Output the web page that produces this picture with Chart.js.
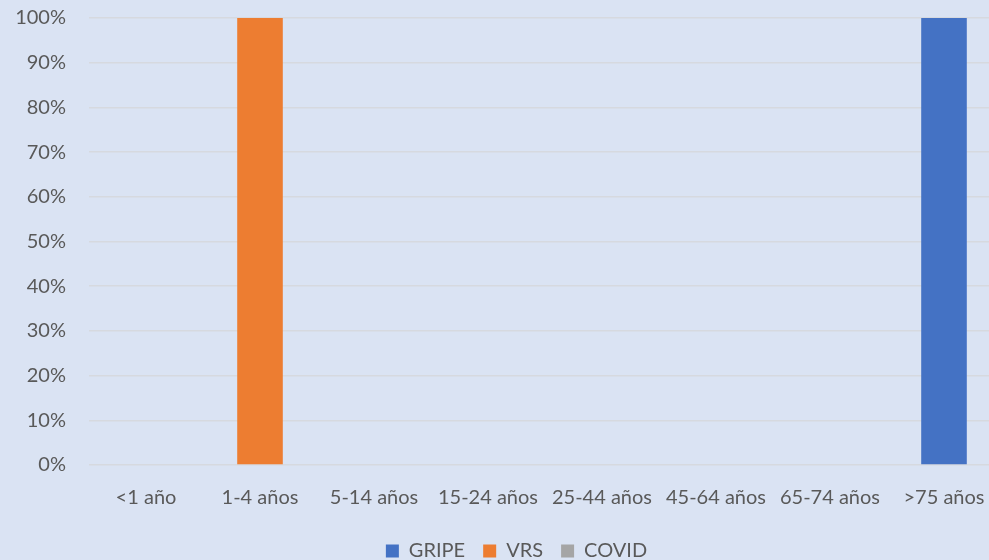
<!DOCTYPE html>
<html>
<head>
<meta charset="utf-8">
<script src="https://cdn.jsdelivr.net/npm/chart.js@4.4.0/dist/chart.umd.min.js"></script>
<style>
  html, body { margin: 0; padding: 0; background: #DAE3F3; overflow: hidden; }
  #wrap { width: 1032px; height: 560px; }
</style>
</head>
<body>
<div id="wrap"><canvas id="chart" width="1032" height="560"></canvas></div>
<script>
var categories = ['<1 año', '1-4 años', '5-14 años', '15-24 años', '25-44 años', '45-64 años', '65-74 años', '>75 años'];
var gripe = [0, 0, 0, 0, 0, 0, 0, 100];
var vrs = [0, 100, 0, 0, 0, 0, 0, 0];
var covid = [0, 0, 0, 0, 0, 0, 0, 0];
var yTicks = [0, 10, 20, 30, 40, 50, 60, 70, 80, 90, 100];

var textColor = '#595959';
var font = { family: 'Lato, "Open Sans", sans-serif', size: 20 };

// nudge the legend to the right, like the original
var legendShift = {
  id: 'legendShift',
  afterLayout: function (chart) {
    chart.legend.left += 16;
    chart.legend.right += 16;
  }
};

var ctx = document.getElementById('chart').getContext('2d');
var chart = new Chart(ctx, {
  type: 'bar',
  data: {
    labels: categories,
    datasets: [
      { label: 'GRIPE', data: gripe, backgroundColor: '#4472C4' },
      { label: 'VRS', data: vrs, backgroundColor: '#ED7D31' },
      { label: 'COVID', data: covid, backgroundColor: '#A5A5A5' }
    ]
  },
  options: {
    responsive: false,
    animation: false,
    barPercentage: 0.4,
    categoryPercentage: 1,
    layout: { autoPadding: false, padding: { top: 18, right: 31, left: 0, bottom: -11 } },
    plugins: {
      legend: {
        position: 'bottom',
        labels: { boxWidth: 13, boxHeight: 13, color: textColor, font: font, padding: 18 }
      },
      tooltip: { enabled: false }
    },
    scales: {
      x: {
        stacked: true,
        grid: { display: false },
        border: { display: false },
        afterFit: function (scale) { scale.height = 58; },
        ticks: { color: textColor, font: font, padding: 13, maxRotation: 0, autoSkip: false }
      },
      y: {
        stacked: true,
        min: 0,
        max: 100,
        afterFit: function (scale) { scale.width = 89; scale.paddingTop = 0; scale.paddingBottom = 0; },
        afterBuildTicks: function (scale) { scale.ticks = yTicks.map(function (v) { return { value: v }; }); },
        grid: { color: '#D6D9DF', lineWidth: 1.5, drawTicks: false },
        border: { display: false },
        ticks: {
          color: textColor, font: font, padding: 23,
          callback: function (v) { return v + '%'; }
        }
      }
    }
  },
  plugins: [legendShift]
});
</script>
</body>
</html>
